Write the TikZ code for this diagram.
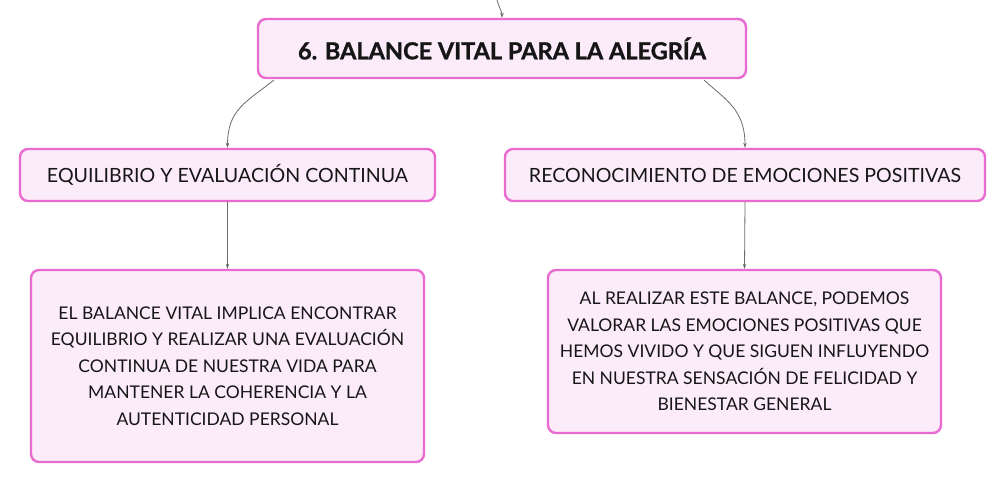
\documentclass[tikz,border=0pt]{standalone}
\usepackage{fontspec}
\setmainfont{Lato}
\usetikzlibrary{arrows.meta}
\definecolor{pinkborder}{HTML}{E96BCF}
\definecolor{pinkfill}{HTML}{FCECF9}
\definecolor{linkgray}{HTML}{6A6A6A}
\definecolor{textdark}{HTML}{161616}
\tikzset{
  box/.style={draw=pinkborder, fill=pinkfill, line width=2.4pt, rounded corners=8pt,
    inner sep=0pt, align=center, text=textdark},
  titlebox/.style={box, font=\fontsize{23.5}{28}\selectfont\bfseries\addfontfeature{FakeBold=1.2}},
  subbox/.style={box, font=\fontsize{19.6}{24}\selectfont},
  leafbox/.style={box, font=\fontsize{17.5}{26.6}\selectfont},
  link/.style={draw=linkgray, line width=0.8pt, -{Stealth[length=5pt,width=3.5pt]}}
}
\begin{document}
\begin{tikzpicture}[x=1pt,y=1pt]
\useasboundingbox (0,0) rectangle (1006,-483);
\node[titlebox, minimum width=488pt, minimum height=59pt] (title) at (502,-48.5) {6. BALANCE VITAL PARA LA ALEGRÍA};
\node[subbox, minimum width=415pt, minimum height=52pt] (lc) at (227.5,-175) {EQUILIBRIO Y EVALUACIÓN CONTINUA};
\node[subbox, minimum width=480pt, minimum height=52pt] (rc) at (745,-175) {RECONOCIMIENTO DE EMOCIONES POSITIVAS};
\node[leafbox, minimum width=393pt, minimum height=192pt] (ll) at (227.5,-366) {EL BALANCE VITAL IMPLICA ENCONTRAR\\EQUILIBRIO Y REALIZAR UNA EVALUACIÓN\\CONTINUA DE NUESTRA VIDA PARA\\MANTENER LA COHERENCIA Y LA\\AUTENTICIDAD PERSONAL};
\node[leafbox, minimum width=393pt, minimum height=163pt] (rl) at (744.5,-351.5) {AL REALIZAR ESTE BALANCE, PODEMOS\\VALORAR LAS EMOCIONES POSITIVAS QUE\\HEMOS VIVIDO Y QUE SIGUEN INFLUYENDO\\EN NUESTRA SENSACIÓN DE FELICIDAD Y\\BIENESTAR GENERAL};
\coordinate (top) at (497,0);
\draw[link] (top) .. controls +(1.5,-6) and +(0,6) .. (title.north);
\draw[link] ([xshift=17pt,yshift=-1pt]title.south west) .. controls +(-28,-22) and +(0,38) .. (lc.north);
\draw[link] ([xshift=-43pt,yshift=-1pt]title.south east) .. controls +(22,-20) and +(0,38) .. (rc.north);
\draw[link] (lc.south) -- (ll.north);
\draw[link] (rc.south) -- (rl.north);
\end{tikzpicture}
\end{document}
